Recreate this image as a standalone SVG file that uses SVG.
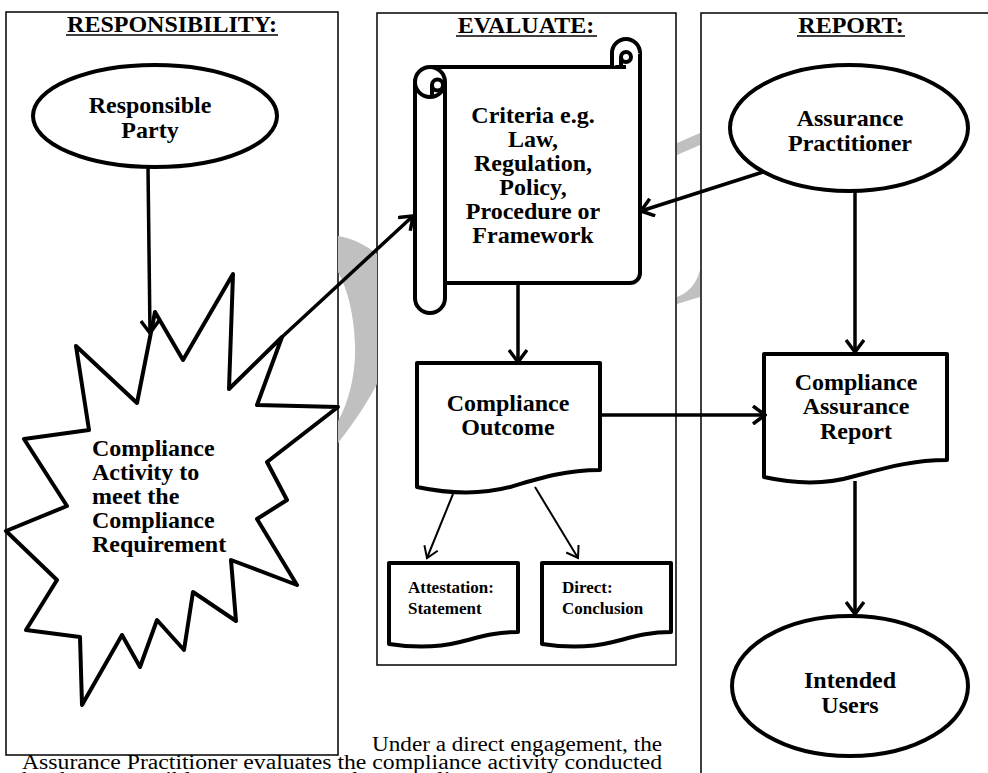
<svg xmlns="http://www.w3.org/2000/svg" width="988" height="773" viewBox="0 0 988 773">
<style>
.panel{fill:#fff;stroke:#000;stroke-width:1.5}
.shape{fill:#fff;stroke:#000;stroke-width:4;stroke-linejoin:round}
.hdr{font-family:"Liberation Serif","Times New Roman",serif;font-weight:bold;font-size:24px;text-anchor:middle;fill:#000}
.lbl{font-family:"Liberation Serif","Times New Roman",serif;font-weight:bold;font-size:24px;text-anchor:middle;fill:#000}
.lbl-s{font-family:"Liberation Serif","Times New Roman",serif;font-weight:bold;font-size:17px;fill:#000}
.body{font-family:"Liberation Serif","Times New Roman",serif;font-size:20.5px;fill:#000}
.ul{stroke:#000;stroke-width:1.5}
.wm{fill:#c0c0c0;stroke:none}
.conn{fill:none;stroke:#000;stroke-width:3.5}
.conn-t{fill:none;stroke:#000;stroke-width:2}
</style>
<defs>
<marker id="arr" viewBox="0 0 20 20" refX="18" refY="10" markerWidth="20" markerHeight="20" markerUnits="userSpaceOnUse" orient="auto">
<path d="M6,1 L18,10 L6,19" fill="none" stroke="#000" stroke-width="3.5"/>
</marker>
<marker id="arr-t" viewBox="0 0 20 20" refX="18" refY="10" markerWidth="18" markerHeight="18" markerUnits="userSpaceOnUse" orient="auto">
<path d="M6,2 L18,10 L6,18" fill="none" stroke="#000" stroke-width="2.2"/>
</marker>
</defs>
<rect width="988" height="773" fill="#fff"/>

<g id="panels">
<rect class="panel" x="6" y="12" width="332" height="743"/>
<rect class="panel" x="377" y="13" width="299" height="652"/>
<path class="panel" d="M990 13 H701 V775"/>
</g>

<g id="watermark">
<path class="wm" d="M338 236 C352 238 366 245 377 254 L377 384 C366 405 352 425 338 443 L338 421 C350 400 356 370 355 345 C354 315 348 290 338 272 Z"/>
<path class="wm" d="M677 143 L700 133 L700 145 L677 155 Z"/>
<path class="wm" d="M677 297 Q695 290 700 270 L700 297 Q690 300 677 304 Z"/>
</g>

<g id="headers">
<text class="hdr" x="172" y="32">RESPONSIBILITY:</text>
<line class="ul" x1="66" y1="35" x2="278" y2="35"/>
<text class="hdr" x="526" y="33">EVALUATE:</text>
<line class="ul" x1="456" y1="36" x2="597" y2="36"/>
<text class="hdr" x="851" y="33">REPORT:</text>
<line class="ul" x1="797" y1="36" x2="905" y2="36"/>
</g>

<g id="responsible-party">
<ellipse class="shape" cx="155" cy="116" rx="122" ry="51"/>
<text class="lbl" x="150" y="113">Responsible</text>
<text class="lbl" x="150" y="138">Party</text>
</g>

<g id="compliance-activity">
<polygon class="shape" stroke-linejoin="miter" points="155,312 183,360 233,274 229,389 282,337 257,405 338,407 267,462 287,500 257,519 297,585 231,560 236,621 193,592 184,650 157,620 140,667 122,635 82,705 80,637 26,630 57,580 6,531 67,506 24,439 89,430 76,346 137,403"/>
<text class="lbl" style="text-anchor:start" x="92" y="456">Compliance</text>
<text class="lbl" style="text-anchor:start" x="92" y="480">Activity to</text>
<text class="lbl" style="text-anchor:start" x="92" y="504">meet the</text>
<text class="lbl" style="text-anchor:start" x="92" y="528">Compliance</text>
<text class="lbl" style="text-anchor:start" x="92" y="552">Requirement</text>
</g>

<g id="criteria">
<path class="shape" d="M430 67 H626 M640 53 V273 A10 10 0 0 1 630 283 H445"/>
<path class="shape" d="M612 67 V53 A14 14 0 0 1 640 53"/>
<path class="shape" d="M621 67 V57 A5 5 0 0 1 631 57 A5 5 0 0 1 621 57"/>
<path class="shape" d="M415 82 V298 A15 15 0 0 0 445 298 V82"/>
<circle class="shape" cx="430" cy="82" r="15"/>
<path class="shape" d="M432 96 V85 A5.5 5.5 0 0 1 443 85 A5.5 5.5 0 0 1 432 85"/>
<text class="lbl" x="533" y="123">Criteria e.g.</text>
<text class="lbl" x="533" y="147">Law,</text>
<text class="lbl" x="533" y="171">Regulation,</text>
<text class="lbl" x="533" y="195">Policy,</text>
<text class="lbl" x="533" y="219">Procedure or</text>
<text class="lbl" x="533" y="243">Framework</text>
</g>

<g id="compliance-outcome">
<path class="shape" d="M417 363 H600 V470 C565 470 540 478 510 487 C480 495 450 494 417 487 Z"/>
<text class="lbl" x="508" y="411">Compliance</text>
<text class="lbl" x="508" y="435">Outcome</text>
</g>

<g id="attestation">
<path class="shape" d="M389 563 H518 V632 C495 632 480 637 460 642 C440 647 415 648 389 644 Z"/>
<text class="lbl-s" x="408" y="593">Attestation:</text>
<text class="lbl-s" x="408" y="614">Statement</text>
</g>

<g id="direct">
<path class="shape" d="M542 563 H671 V632 C648 632 633 637 613 642 C593 647 568 648 542 644 Z"/>
<text class="lbl-s" x="562" y="593">Direct:</text>
<text class="lbl-s" x="562" y="614">Conclusion</text>
</g>

<g id="assurance-practitioner">
<ellipse class="shape" cx="849" cy="128" rx="119" ry="63"/>
<text class="lbl" x="850" y="126">Assurance</text>
<text class="lbl" x="850" y="151">Practitioner</text>
</g>

<g id="assurance-report">
<path class="shape" d="M764 354 H947 V460 C912 460 885 468 855 476 C825 485 795 484 764 477 Z"/>
<text class="lbl" x="856" y="390">Compliance</text>
<text class="lbl" x="856" y="414">Assurance</text>
<text class="lbl" x="856" y="439">Report</text>
</g>

<g id="intended-users">
<ellipse class="shape" cx="850" cy="686" rx="118" ry="70"/>
<text class="lbl" x="850" y="688">Intended</text>
<text class="lbl" x="850" y="713">Users</text>
</g>

<g id="connectors">
<line class="conn" x1="148" y1="167" x2="150" y2="333" marker-end="url(#arr)"/>
<line class="conn" x1="282" y1="337" x2="413" y2="216" marker-end="url(#arr)"/>
<line class="conn" x1="763" y1="172" x2="641" y2="211" marker-end="url(#arr)"/>
<line class="conn" x1="518" y1="283" x2="518" y2="362" marker-end="url(#arr)"/>
<line class="conn" x1="600" y1="415" x2="765" y2="415" marker-end="url(#arr)"/>
<line class="conn" x1="855" y1="191" x2="855" y2="352" marker-end="url(#arr)"/>
<line class="conn" x1="855" y1="481" x2="855" y2="614" marker-end="url(#arr)"/>
<line class="conn-t" x1="453" y1="494" x2="427" y2="558" marker-end="url(#arr-t)"/>
<line class="conn-t" x1="535" y1="487" x2="578" y2="558" marker-end="url(#arr-t)"/>
</g>

<g id="caption">
<text class="body" x="372" y="751" textLength="290" lengthAdjust="spacingAndGlyphs">Under a direct engagement, the</text>
<text class="body" x="22" y="769" textLength="640" lengthAdjust="spacingAndGlyphs">Assurance Practitioner evaluates the compliance activity conducted</text>
<text class="body" x="22" y="786" textLength="600" lengthAdjust="spacingAndGlyphs">by the responsible party to meet the compliance requirement</text>
</g>
</svg>
